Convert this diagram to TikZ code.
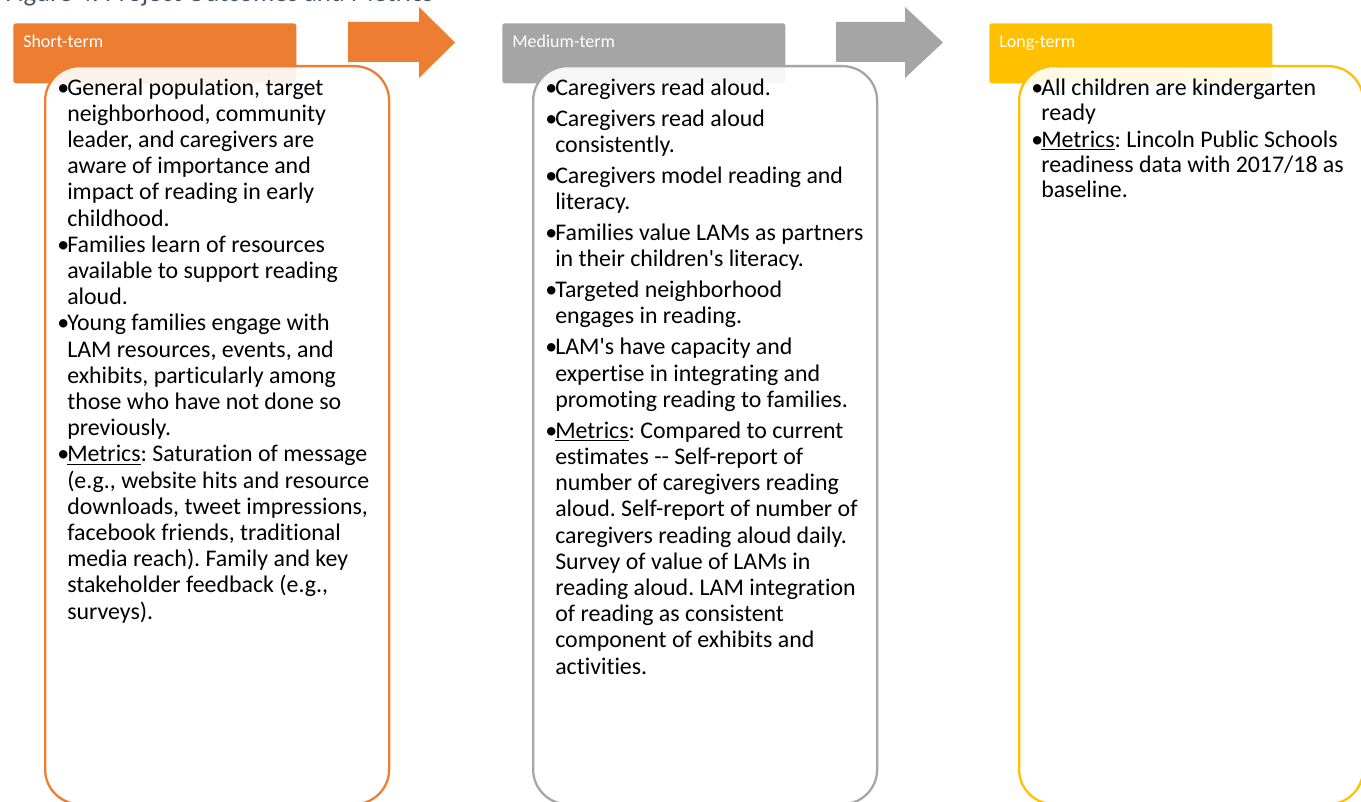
\documentclass[tikz,border=0pt]{standalone}
\usepackage{fontspec}
\setmainfont{Carlito}[Ligatures=NoCommon]
\usetikzlibrary{positioning}
\usepackage{xcolor}
\frenchspacing

\definecolor{stOrange}{HTML}{ED7D31}
\definecolor{mtGrey}{HTML}{A5A5A5}
\definecolor{ltGold}{HTML}{FFC000}
\definecolor{capBlue}{HTML}{44546A}

\newcommand{\itembullet}{\makebox[7.5pt][l]{\textbullet}}
\newcommand{\itemcont}{\hspace*{7.5pt}}

\begin{document}
\begin{tikzpicture}[
        x=0.75pt, y=-0.75pt,
        stagehdr/.style={rectangle, rounded corners=2pt, anchor=north west, inner xsep=7.5pt, inner ysep=0pt, text width=197.25pt, text height=18pt, text depth=27pt, align=left, text=white, font=\fontsize{13.5}{16}\selectfont},
        stagebox/.style={rectangle, rounded corners=26pt, anchor=north west, line width=1.7pt, fill=white, fill opacity=0.9, minimum width=258pt, minimum height=553.5pt},
        itemlist/.style={anchor=north west, inner sep=0pt, align=left, text=black, font=\fontsize{17.9}{19.65}\selectfont}
    ]
        \useasboundingbox (0,0) rectangle (1361,802);

        % Caption (runs off the top)
        \node[anchor=base west, inner sep=0pt, text=capBlue, font=\fontsize{20}{24}\selectfont] (figTitle) at (5,2) {Figure 4: Project Outcomes and Metrics};

        % Arrows between stages
        \fill[stOrange] (348,22) -- (419,22) -- (419,7) -- (455,42.5) -- (419,78) -- (419,62) -- (348,62) -- cycle;
        \fill[mtGrey] (836,22) -- (905,22) -- (905,7) -- (943,42.5) -- (905,78) -- (905,62) -- (836,62) -- cycle;

        % Stage headers
        \node[stagehdr, fill=stOrange] (shortHdr) at (13,23) {Short-term};
        \node[stagehdr, fill=mtGrey] (mediumHdr) at (502,23) {Medium-term};
        \node[stagehdr, fill=ltGold] (longHdr) at (989,23) {Long-term};

        % Outcome boxes
        \node[stagebox, draw=stOrange] (shortBox) at (44,65) {};
        \node[stagebox, draw=mtGrey] (mediumBox) at (532,65) {};
        \node[stagebox, draw=ltGold] (longBox) at (1018,65) {};

        % Short-term outcomes
        \node[itemlist, below right=10pt and 9.75pt of shortBox.north west] (shortList) {%
            \itembullet General population, target\\
            \itemcont neighborhood, community\\
            \itemcont leader, and caregivers are\\
            \itemcont aware of importance and\\
            \itemcont impact of reading in early\\
            \itemcont childhood.\\
            \itembullet Families learn of resources\\
            \itemcont available to support reading\\
            \itemcont aloud.\\
            \itembullet Young families engage with\\
            \itemcont LAM resources, events, and\\
            \itemcont exhibits, particularly among\\
            \itemcont those who have not done so\\
            \itemcont previously.\\
            \itembullet \underline{Metrics}: Saturation of message\\
            \itemcont (e.g., website hits and resource\\
            \itemcont downloads, tweet impressions,\\
            \itemcont facebook friends, traditional\\
            \itemcont media reach). Family and key\\
            \itemcont stakeholder feedback (e.g.,\\
            \itemcont surveys).};

        % Medium-term outcomes
        \node[itemlist, below right=10pt and 9.75pt of mediumBox.north west] (mediumList) {%
            \itembullet Caregivers read aloud.\\[3.6pt]
            \itembullet Caregivers read aloud\\
            \itemcont consistently.\\[3.6pt]
            \itembullet Caregivers model reading and\\
            \itemcont literacy.\\[3.6pt]
            \itembullet Families value LAMs as partners\\
            \itemcont in their children\textquotesingle s literacy.\\[3.6pt]
            \itembullet Targeted neighborhood\\
            \itemcont engages in reading.\\[3.6pt]
            \itembullet LAM\textquotesingle s have capacity and\\
            \itemcont expertise in integrating and\\
            \itemcont promoting reading to families.\\[3.6pt]
            \itembullet \underline{Metrics}: Compared to current\\
            \itemcont estimates -{}- Self-report of\\
            \itemcont number of caregivers reading\\
            \itemcont aloud. Self-report of number of\\
            \itemcont caregivers reading aloud daily.\\
            \itemcont Survey of value of LAMs in\\
            \itemcont reading aloud. LAM integration\\
            \itemcont of reading as consistent\\
            \itemcont component of exhibits and\\
            \itemcont activities.};

        % Long-term outcomes
        \node[itemlist, font=\fontsize{17.9}{18.9}\selectfont, below right=10pt and 9.75pt of longBox.north west] (longList) {%
            \itembullet All children are kindergarten\\
            \itemcont ready\\[1.5pt]
            \itembullet \underline{Metrics}: Lincoln Public Schools\\
            \itemcont readiness data with 2017/18 as\\
            \itemcont baseline.};
    \end{tikzpicture}
\end{document}
